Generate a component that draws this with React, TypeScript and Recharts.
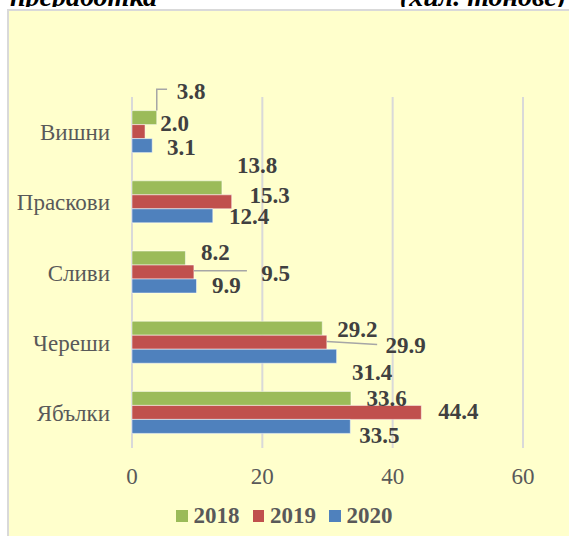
import React from 'react';
import { BarChart, Bar, XAxis, YAxis, CartesianGrid, Legend, LabelList } from 'recharts';

const categories = ['Вишни', 'Праскови', 'Сливи', 'Череши', 'Ябълки'];
const values2018 = [3.8, 13.8, 8.2, 29.2, 33.6];
const values2019 = [2.0, 15.3, 9.5, 29.9, 44.4];
const values2020 = [3.1, 12.4, 9.9, 31.4, 33.5];
const xTicks = [0, 20, 40, 60];
const years = ['2018', '2019', '2020'];
const colors = ['#9BBB59', '#C0504D', '#4F81BD'];

const FONT = "'Liberation Serif', 'Times New Roman', serif";

// label nudges from the bar end (dx) and bar middle (dy); leader = polyline points, same origin
type Nudge = { dx: number; dy: number; leader?: number[][] };
const nudges2018: Nudge[] = [
  { dx: 20, dy: -26, leader: [[0, -7], [0, -28.4], [10.3, -28.4]] },
  { dx: 15, dy: -22 },
  { dx: 15.6, dy: -6 },
  { dx: 15, dy: 1 },
  { dx: 15.5, dy: 0.5 },
];
const nudges2019: Nudge[] = [
  { dx: 15.3, dy: -8 },
  { dx: 17.7, dy: -6.3 },
  { dx: 67.4, dy: 1.7, leader: [[0, -1.3], [53, -1.3]] },
  { dx: 58.6, dy: 3.2, leader: [[0, -0.8], [50.3, 2.2]] },
  { dx: 17, dy: -0.8 },
];
const nudges2020: Nudge[] = [
  { dx: 14.8, dy: 1.7 },
  { dx: 16.2, dy: 0.7 },
  { dx: 15.5, dy: -0.9 },
  { dx: 15.5, dy: 16.2 },
  { dx: 9, dy: 8.6 },
];
const nudges = [nudges2018, nudges2019, nudges2020];

const data = categories.map((name, i) => ({
  name,
  y2018: values2018[i],
  y2019: values2019[i],
  y2020: values2020[i],
}));

const makeLabel = (series: number) => (props: any) => {
  const { x, y, width, height, value, index } = props;
  const n = nudges[series][index];
  const ex = Number(x) + Number(width);
  const cy = Number(y) + Number(height) / 2;
  return (
    <g>
      {n.leader && (
        <polyline
          points={n.leader.map(([px, py]) => `${ex + px},${cy + py}`).join(' ')}
          fill="none"
          stroke="#A6A6A6"
          strokeWidth={1.5}
        />
      )}
      <text
        x={ex + n.dx}
        y={cy + n.dy}
        dominantBaseline="central"
        textAnchor="start"
        fontFamily={FONT}
        fontWeight="bold"
        fontSize={23}
        fill="#404040"
      >
        {Number(value).toFixed(1)}
      </text>
    </g>
  );
};

const LegendContent = () => (
  <div style={{ display: 'flex', alignItems: 'center', height: 40, fontFamily: FONT }}>
    {years.map((yr, i) => (
      <div key={yr} style={{ display: 'flex', alignItems: 'center', marginRight: 13 }}>
        <span style={{ width: 11.5, height: 11.5, background: colors[i], display: 'inline-block', marginRight: 6 }} />
        <span style={{ fontWeight: 'bold', fontSize: 23, color: '#595959' }}>{yr}</span>
      </div>
    ))}
  </div>
);

const titleStyle: React.CSSProperties = {
  position: 'absolute',
  top: -19,
  fontFamily: FONT,
  fontWeight: 'bold',
  fontStyle: 'italic',
  fontSize: 28,
  color: '#000',
  whiteSpace: 'nowrap',
};

export default function App() {
  return (
    <div style={{ position: 'fixed', left: 0, top: 0, width: 569, height: 536, overflow: 'hidden', background: '#fff' }}>
      <span style={{ ...titleStyle, left: 10 }}>преработка</span>
      <span style={{ ...titleStyle, right: 3 }}>(хил. тонове)</span>
      <div style={{ position: 'absolute', left: 0, top: 7, width: 569, height: 4, background: '#fff' }} />
      <div style={{ position: 'absolute', left: 7, top: 9, width: 700, height: 700, background: '#FFFFCC', border: '2px solid #D9D9D9' }} />
      <div style={{ position: 'absolute', left: 0, top: 0 }}>
        <BarChart
          width={569}
          height={536}
          data={data}
          layout="vertical"
          margin={{ top: 97, right: 46, bottom: 0, left: 0 }}
          barCategoryGap="19.4%"
          barGap={0}
        >
          <CartesianGrid horizontal={false} stroke="#D9D9D9" strokeWidth={2} />
          <XAxis
            type="number"
            domain={[0, 60]}
            ticks={xTicks}
            axisLine={false}
            tickLine={false}
            tickSize={0}
            tickMargin={20}
            height={48}
            tick={{ fill: '#595959', fontSize: 23, fontFamily: FONT }}
          />
          <YAxis
            type="category"
            dataKey="name"
            width={132}
            axisLine={false}
            tickLine={false}
            tickSize={0}
            tickMargin={22}
            interval={0}
            tick={{ fill: '#595959', fontSize: 23, fontFamily: FONT }}
          />
          <Legend
            verticalAlign="bottom"
            content={<LegendContent />}
            wrapperStyle={{ left: 176, bottom: 0, width: 300, height: 40 }}
          />
          {years.map((yr, i) => (
            <Bar
              key={yr}
              dataKey={`y${yr}`}
              name={yr}
              fill={colors[i]}
              stroke="#ffffff"
              strokeOpacity={0.5}
              strokeWidth={1}
              isAnimationActive={false}
            >
              <LabelList dataKey={`y${yr}`} content={makeLabel(i)} />
            </Bar>
          ))}
        </BarChart>
      </div>
    </div>
  );
}
